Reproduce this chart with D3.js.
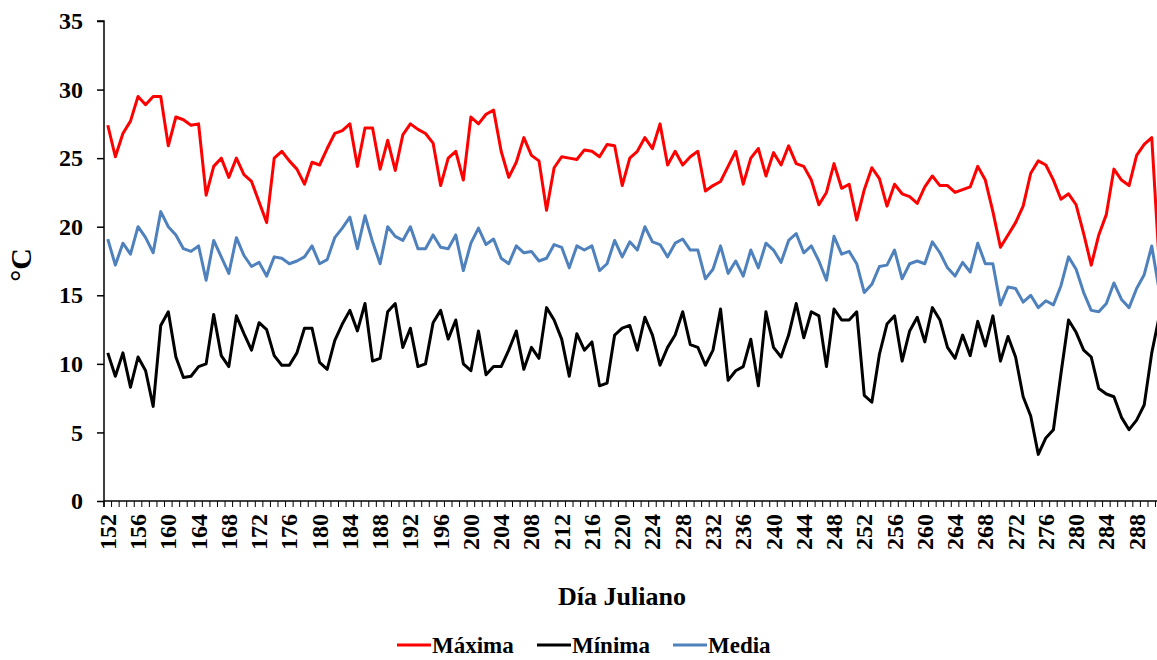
<!DOCTYPE html>
<html>
<head>
<meta charset="utf-8">
<script src="https://cdnjs.cloudflare.com/ajax/libs/d3/7.8.5/d3.min.js"></script>
<style>
  body { margin: 0; background: #fff; }
  svg text { font-family: "Liberation Serif", "Times New Roman", serif !important; font-weight: bold; fill: #000; }
</style>
</head>
<body>
<div class="chart"></div>
<script>
// días julianos 152..291
const startDay = 152;

const maxima = [
  27.4, 25.1, 26.8, 27.7, 29.5, 28.9, 29.5, 29.5, 25.9, 28.0,
  27.8, 27.4, 27.5, 22.3, 24.4, 25.0, 23.6, 25.0, 23.8, 23.3,
  21.8, 20.3, 25.0, 25.5, 24.8, 24.2, 23.1, 24.7, 24.5, 25.7,
  26.8, 27.0, 27.5, 24.4, 27.2, 27.2, 24.2, 26.3, 24.1, 26.7,
  27.5, 27.1, 26.8, 26.1, 23.0, 25.0, 25.5, 23.4, 28.0, 27.5,
  28.2, 28.5, 25.5, 23.6, 24.7, 26.5, 25.2, 24.8, 21.2, 24.3,
  25.1, 25.0, 24.9, 25.6, 25.5, 25.1, 26.0, 25.9, 23.0, 25.0,
  25.5, 26.5, 25.7, 27.5, 24.5, 25.5, 24.5, 25.1, 25.5, 22.6,
  23.0, 23.3, 24.4, 25.5, 23.1, 25.0, 25.7, 23.7, 25.4, 24.5,
  25.9, 24.6, 24.4, 23.4, 21.6, 22.5, 24.6, 22.8, 23.1, 20.5,
  22.7, 24.3, 23.5, 21.5, 23.1, 22.4, 22.2, 21.7, 22.9, 23.7,
  23.0, 23.0, 22.5, 22.7, 22.9, 24.4, 23.4, 21.1, 18.5, 19.4,
  20.3, 21.5, 23.9, 24.8, 24.5, 23.4, 22.0, 22.4, 21.6, 19.5,
  17.2, 19.4, 20.9, 24.2, 23.4, 23.0, 25.2, 26.0, 26.5, 17.2
];

const minima = [
  10.8, 9.1, 10.8, 8.3, 10.5, 9.5, 6.9, 12.8, 13.8, 10.5,
  9.0, 9.1, 9.8, 10.0, 13.6, 10.6, 9.8, 13.5, 12.2, 11.0,
  13.0, 12.5, 10.6, 9.9, 9.9, 10.8, 12.6, 12.6, 10.1, 9.6,
  11.7, 12.9, 13.9, 12.4, 14.4, 10.2, 10.4, 13.8, 14.4, 11.2,
  12.6, 9.8, 10.0, 13.0, 13.9, 11.8, 13.2, 10.0, 9.5, 12.4,
  9.2, 9.8, 9.8, 11.0, 12.4, 9.6, 11.2, 10.4, 14.1, 13.2,
  11.8, 9.1, 12.2, 11.0, 11.6, 8.4, 8.6, 12.1, 12.6, 12.8,
  11.0, 13.4, 12.1, 9.9, 11.2, 12.1, 13.8, 11.4, 11.2, 9.9,
  11.0, 14.0, 8.8, 9.5, 9.8, 11.8, 8.4, 13.8, 11.2, 10.5,
  12.1, 14.4, 11.9, 13.8, 13.5, 9.8, 14.0, 13.2, 13.2, 13.8,
  7.7, 7.2, 10.7, 12.9, 13.5, 10.2, 12.4, 13.4, 11.6, 14.1,
  13.2, 11.2, 10.4, 12.1, 10.6, 13.1, 11.3, 13.5, 10.2, 12.0,
  10.5, 7.6, 6.2, 3.4, 4.6, 5.2, 9.3, 13.2, 12.3, 11.0,
  10.5, 8.2, 7.8, 7.6, 6.1, 5.2, 5.9, 7.0, 10.8, 13.5
];

const media = [
  19.1, 17.2, 18.8, 18.0, 20.0, 19.2, 18.1, 21.1, 20.0, 19.4,
  18.4, 18.2, 18.6, 16.1, 19.0, 17.8, 16.6, 19.2, 17.9, 17.1,
  17.4, 16.4, 17.8, 17.7, 17.3, 17.5, 17.8, 18.6, 17.3, 17.6,
  19.2, 19.9, 20.7, 18.4, 20.8, 18.9, 17.3, 20.0, 19.3, 19.0,
  20.0, 18.4, 18.4, 19.4, 18.5, 18.4, 19.4, 16.8, 18.8, 19.9,
  18.7, 19.1, 17.7, 17.3, 18.6, 18.1, 18.2, 17.5, 17.7, 18.7,
  18.5, 17.0, 18.6, 18.3, 18.6, 16.8, 17.3, 19.0, 17.8, 18.9,
  18.3, 20.0, 18.9, 18.7, 17.8, 18.8, 19.1, 18.3, 18.3, 16.2,
  16.9, 18.6, 16.6, 17.5, 16.4, 18.3, 17.0, 18.8, 18.3, 17.4,
  19.0, 19.5, 18.1, 18.6, 17.5, 16.1, 19.3, 18.0, 18.2, 17.3,
  15.2, 15.8, 17.1, 17.2, 18.3, 16.2, 17.3, 17.5, 17.3, 18.9,
  18.1, 17.0, 16.4, 17.4, 16.7, 18.8, 17.3, 17.3, 14.3, 15.6,
  15.5, 14.5, 15.0, 14.1, 14.6, 14.3, 15.7, 17.8, 16.9, 15.2,
  13.9, 13.8, 14.4, 15.9, 14.7, 14.1, 15.5, 16.5, 18.6, 15.3
];

const yTicks = [0, 5, 10, 15, 20, 25, 30, 35];

const seriesNames = ["Máxima", "Mínima", "Media"];
const seriesColors = ["#ff0000", "#000000", "#4f81bd"];
const seriesData = [maxima, minima, media];

const width = 1157, height = 660;
const days = maxima.map((d, i) => startDay + i);

const svg = d3.select(".chart").append("svg")
  .attr("width", width)
  .attr("height", height);

// eje de categorías: cada día ocupa una casilla, el punto va al centro
let x = d3.scaleLinear()
  .domain([startDay - 0.5, startDay + days.length - 0.5])
  .range([104, 104 + 7.565 * days.length]);

let y = d3.scaleLinear()
  .domain([0, 35])
  .range([501, 21]);

// eje Y
let yAxis = svg.append("g")
  .attr("transform", "translate(104,0)")
  .call(d3.axisLeft(y).tickValues(yTicks).tickSize(7).tickPadding(14));
yAxis.select(".domain").attr("stroke", "#000").attr("stroke-width", 1.5)
  .attr("d", "M-7,21H0V507");
yAxis.selectAll("line").attr("stroke-width", 1.5);
yAxis.selectAll("text")
  .style("font-size", "24px");

// eje X: marcas entre días, etiqueta cada 4 días
let boundaries = d3.range(startDay - 0.5, startDay + days.length, 1);
let xg = svg.append("g");
xg.append("line")
  .attr("x1", 104).attr("x2", width)
  .attr("y1", y(0)).attr("y2", y(0))
  .attr("stroke", "#000").attr("stroke-width", 1.5);
xg.selectAll("line.tk")
  .data(boundaries)
  .enter().append("line")
  .attr("class", "tk")
  .attr("x1", d => x(d)).attr("x2", d => x(d))
  .attr("y1", y(0)).attr("y2", y(0) + 6)
  .attr("stroke", "#000").attr("stroke-width", 1);

let labelDays = days.filter(d => (d - startDay) % 4 === 0);
xg.selectAll("text")
  .data(labelDays)
  .enter().append("text")
  .attr("transform", d => "translate(" + (x(d) + 8) + "," + 514 + ") rotate(-90)")
  .attr("text-anchor", "end")
  .style("font-size", "24px")
  .text(d => d);

// líneas
let line = d3.line()
  .x((d, i) => x(startDay + i))
  .y(d => y(d));

svg.selectAll("path.serie")
  .data(seriesData)
  .enter().append("path")
  .attr("class", "serie")
  .attr("d", d => line(d))
  .attr("fill", "none")
  .attr("stroke", (d, i) => seriesColors[i])
  .attr("stroke-width", 3)
  .attr("stroke-linejoin", "round");

// títulos
svg.append("text")
  .attr("transform", "translate(31,265) rotate(-90)")
  .attr("text-anchor", "middle")
  .style("font-size", "30px")
  .text("°C");

svg.append("text")
  .attr("x", 622)
  .attr("y", 605)
  .attr("text-anchor", "middle")
  .style("font-size", "26px")
  .text("Día Juliano");

// leyenda
let legendX = [397, 537, 673];
let legend = svg.selectAll("g.legend")
  .data(seriesNames)
  .enter().append("g")
  .attr("class", "legend")
  .attr("transform", (d, i) => "translate(" + legendX[i] + ",645)");

legend.append("line")
  .attr("x1", 0).attr("x2", 34)
  .attr("y1", 0).attr("y2", 0)
  .attr("stroke", (d, i) => seriesColors[i])
  .attr("stroke-width", 3);

legend.append("text")
  .attr("x", 35)
  .attr("y", 8)
  .style("font-size", "23px")
  .text(d => d);
</script>
</body>
</html>
